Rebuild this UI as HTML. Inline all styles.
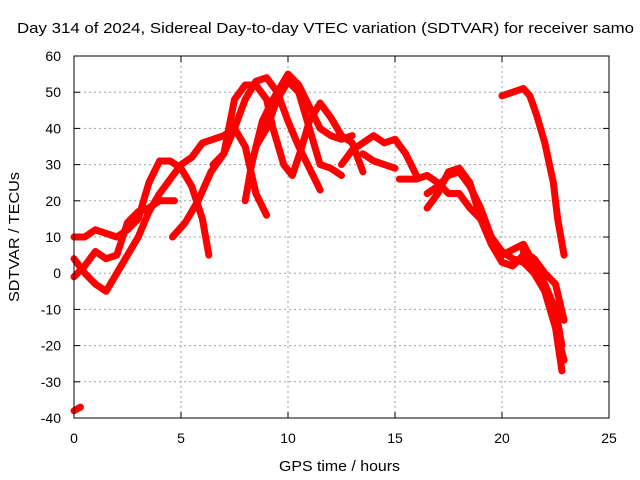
<!DOCTYPE html>
<html><head><meta charset="utf-8"><style>
body{margin:0;background:#fff}
svg{display:block;font-family:"Liberation Sans",sans-serif}
</style></head><body>
<svg id="chart" width="640" height="480">
<text x="17" y="33" font-size="15" textLength="617" lengthAdjust="spacingAndGlyphs">Day 314 of 2024, Sidereal Day-to-day VTEC variation (SDTVAR) for receiver samo</text>
<text x="279" y="471" font-size="15" textLength="121" lengthAdjust="spacingAndGlyphs">GPS time / hours</text>
<text transform="translate(19,302) rotate(-90)" font-size="15" textLength="130" lengthAdjust="spacingAndGlyphs">SDTVAR / TECUs</text>
<g id="grid"></g><g id="ticks"></g><g id="series"></g>
<rect x="74" y="56" width="535" height="362" fill="none" stroke="#000" stroke-width="1"/>
</svg>
<script>
const xTicks=[0,5,10,15,20,25];
const yTicks=[-40,-30,-20,-10,0,10,20,30,40,50,60];
const track1=[[0,-38],[0.3,-37]];
const track2=[[0,10],[0.5,10],[1,12],[1.5,11],[2,10],[2.5,12],[3,15],[3.5,25],[4,31],[4.5,31],[5,29],[5.5,24],[6,15],[6.3,5]];
const track3=[[0,4],[0.5,0],[1,-3],[1.5,-5],[2,0],[2.5,5],[3,10],[3.5,17],[4,22],[4.5,26],[5,30],[5.5,32],[6,36],[7,38],[7.5,40],[8,35],[8.5,22],[9,16]];
const track4=[[0,-1],[0.5,2],[1,6],[1.5,4],[2,5],[2.5,14],[3,17],[3.5,18],[4,20],[4.7,20]];
const track5=[[4.6,10],[5.2,14],[5.8,20],[6.4,28],[7,33],[7.5,40],[8,48],[8.5,53],[9,54],[9.5,50],[10,42],[10.5,35],[11,29],[11.5,23]];
const track6=[[6.5,30],[7,33],[7.5,48],[8,52],[8.5,52],[9,48],[9.3,40],[9.8,30],[10.2,27],[10.6,34],[11,42],[11.5,47],[12,43],[12.5,38],[13,36],[13.5,28]];
const track7=[[8,20],[8.3,30],[8.8,42],[9.3,48],[10,55],[10.5,52],[11,46],[11.5,40],[12,38],[12.5,37],[13,38]];
const track8=[[8.5,35],[9,40],[9.5,48],[10,53],[10.5,50],[11,40],[11.5,30],[12,29],[12.5,27]];
const track9=[[12.5,30],[13,34],[14,38],[14.5,36],[15,37],[15.5,33],[16,27]];
const track10=[[13.5,33],[14,31],[14.5,30],[15,29]];
const track11=[[15.2,26],[16,26],[16.5,27],[17,25],[17.5,22],[18,22],[18.5,18],[19,15],[19.5,10],[20,6],[20.5,4],[21,3],[21.5,0],[22,-5],[22.5,-15],[22.8,-27]];
const track12=[[16.5,18],[17,22],[17.5,28],[18,29],[18.5,25],[19,15],[19.5,8],[20,3],[20.5,2],[21,5],[21.5,2],[22,-5],[22.5,-15],[22.9,-24]];
const track13=[[16.5,22],[17,24],[17.5,27],[18,28],[18.5,24],[19,18],[19.5,10],[20,5],[21,8],[22,-3],[22.5,-10],[22.8,-20]];
const track14=[[20,49],[20.5,50],[21,51],[21.3,49],[21.6,44],[22,36],[22.4,25],[22.6,15],[22.9,5]];
const track15=[[21,6],[21.5,4],[22,0],[22.5,-3],[22.9,-13]];
const tracks=[track1,track2,track3,track4,track5,track6,track7,track8,track9,track10,track11,track12,track13,track14,track15];
const NS="http://www.w3.org/2000/svg";
function xs(v){return 74+v*(535/25);}
function ys(v){return 418-(v+40)*(362/100);}
function mk(t,a,p){const e=document.createElementNS(NS,t);for(const k in a)e.setAttribute(k,a[k]);p.appendChild(e);return e;}
const grid=document.getElementById('grid'),ticks=document.getElementById('ticks'),ser=document.getElementById('series');
xTicks.forEach(t=>{
  const g=mk('line',{x1:xs(t),x2:xs(t),y1:56,y2:418,stroke:'#a0a0a0','stroke-dasharray':'2,3'},grid);
  
  
  mk('line',{x1:xs(t),x2:xs(t),y1:418,y2:412,stroke:'#000'},ticks);
  mk('line',{x1:xs(t),x2:xs(t),y1:56,y2:62,stroke:'#000'},ticks);
  const l=mk('text',{x:xs(t),y:443,'font-size':14,'text-anchor':'middle'},ticks);
  l.textContent=t;
  
  
});
yTicks.forEach(t=>{
  const g=mk('line',{x1:74,x2:609,y1:ys(t),y2:ys(t),stroke:'#a0a0a0','stroke-dasharray':'2,3'},grid);
  
  
  mk('line',{x1:74,x2:80,y1:ys(t),y2:ys(t),stroke:'#000'},ticks);
  mk('line',{x1:609,x2:603,y1:ys(t),y2:ys(t),stroke:'#000'},ticks);
  const l=mk('text',{x:61,y:ys(t)+5,'font-size':14,'text-anchor':'end'},ticks);
  l.textContent=t;
  
  
});
tracks.forEach(tr=>{
  const p=mk('polyline',{points:tr.map(d=>xs(d[0])+','+ys(d[1])).join(' '),fill:'none',stroke:'#ff0000','stroke-width':7,'stroke-linejoin':'round','stroke-linecap':'round'},ser);
  
  
});
</script>
</body></html>
